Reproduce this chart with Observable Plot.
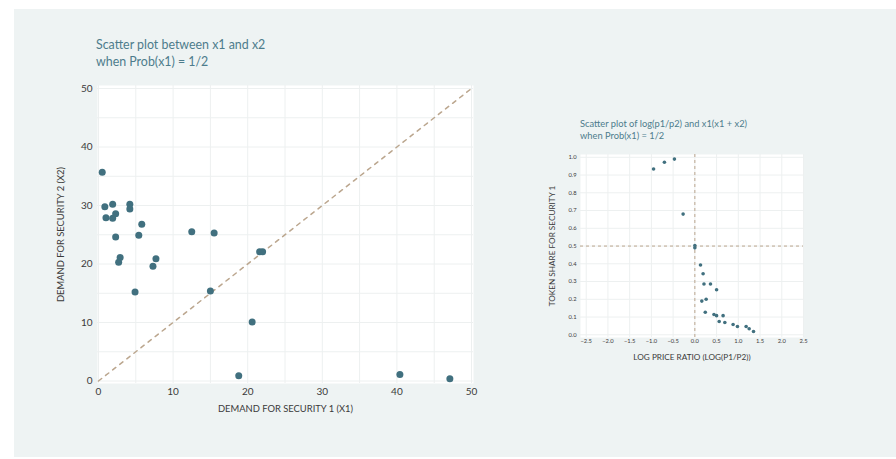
<!DOCTYPE html>
<html>
<head>
<meta charset="utf-8">
<script src="https://cdn.jsdelivr.net/npm/d3@7"></script>
<script src="https://cdn.jsdelivr.net/npm/@observablehq/plot@0.6"></script>
<style>
  html, body { margin: 0; padding: 0; background: #ffffff; }
  #root { position: relative; width: 896px; height: 459px; overflow: hidden; font-family: Lato, "Open Sans", sans-serif; }
  #panel { position: absolute; left: 14px; top: 9px; width: 882px; height: 448px; background: #eef3f3; }
  .title { position: absolute; color: #4d7c8c; white-space: nowrap; }
  #t1 { left: 96px; top: 36px; font-size: 12.4px; line-height: 17px; }
  #t2 { left: 580px; top: 118px; font-size: 9.3px; line-height: 12px; }
  .chart { position: absolute; }
  #c1 { left: 40px; top: 78px; }
  #c2 { left: 540px; top: 140px; }
</style>
</head>
<body>
<div id="root">
  <div id="panel"></div>
  <div class="title" id="t1">Scatter plot between x1 and x2<br>when Prob(x1) = 1/2</div>
  <div class="title" id="t2">Scatter plot of log(p1/p2) and x1(x1 + x2)<br>when Prob(x1) = 1/2</div>
  <div class="chart" id="c1"></div>
  <div class="chart" id="c2"></div>
</div>
<script>
// Left chart data: demand for security 1 (x1) and security 2 (x2)
const demandX1 = [0.5, 0.85, 1.0, 1.9, 1.9, 2.3, 2.3, 2.7, 2.9, 4.2, 4.2, 4.9, 5.4, 5.8, 7.3, 7.7, 12.5, 15.5, 15.0, 18.8, 20.6, 21.6, 22.0, 40.4, 47.1];
const demandX2 = [35.7, 29.8, 27.9, 30.2, 27.8, 28.6, 24.6, 20.3, 21.1, 30.2, 29.4, 15.2, 24.9, 26.8, 19.6, 20.9, 25.5, 25.3, 15.4, 0.9, 10.1, 22.1, 22.1, 1.1, 0.4];
const leftTicks = [0, 10, 20, 30, 40, 50];
const leftGrid = [0, 5, 10, 15, 20, 25, 30, 35, 40, 45, 50];
const diagonal = [0, 50];

// Right chart data: log price ratio and token share for security 1
const logPriceRatio = [-0.95, -0.70, -0.47, -0.27, 0.0, 0.0, 0.13, 0.19, 0.21, 0.36, 0.50, 0.16, 0.26, 0.24, 0.44, 0.50, 0.65, 0.56, 0.69, 0.88, 0.98, 1.18, 1.25, 1.35];
const tokenShare = [0.934, 0.972, 0.99, 0.68, 0.503, 0.49, 0.393, 0.344, 0.286, 0.286, 0.254, 0.19, 0.20, 0.127, 0.114, 0.108, 0.108, 0.075, 0.069, 0.058, 0.047, 0.047, 0.034, 0.019];
const rightXTicks = [-2.5, -2.0, -1.5, -1.0, -0.5, 0.0, 0.5, 1.0, 1.5, 2.0, 2.5];
const rightYTicks = [0.0, 0.1, 0.2, 0.3, 0.4, 0.5, 0.6, 0.7, 0.8, 0.9, 1.0];

const dotColor = "#41707f";
const dashColor = "#bba68e";
const gridColor = "#edf0f0";
const tickColor = "#3a3a3a";

const leftData = demandX1.map((x, i) => ({x1: x, x2: demandX2[i]}));
const diagData = diagonal.map(v => ({x: v, y: v}));

const left = Plot.plot({
  width: 450, height: 350,
  marginLeft: 57, marginRight: 17, marginTop: 7, marginBottom: 45,
  insetLeft: 1, insetRight: 2, insetTop: 3, insetBottom: 2.5,
  style: {fontFamily: "Lato, 'Open Sans', sans-serif", fontSize: "10px", color: tickColor, background: "transparent", overflow: "visible"},
  x: {domain: [0, 50]},
  y: {domain: [0, 50]},
  marks: [
    Plot.frame({fill: "#ffffff", stroke: null}),
    Plot.gridX(leftGrid, {stroke: gridColor, strokeOpacity: 1}),
    Plot.gridY(leftGrid, {stroke: gridColor, strokeOpacity: 1}),
    Plot.line(diagData, {x: "x", y: "y", stroke: dashColor, strokeWidth: 1.5, strokeDasharray: "4,5"}),
    Plot.dot(leftData, {x: "x1", y: "x2", r: 3.5, fill: dotColor, stroke: null}),
    Plot.axisX(leftTicks, {tickSize: 0, tickPadding: 4, fontSize: 10, label: "DEMAND FOR SECURITY 1 (X1)", labelAnchor: "center", labelOffset: 28, labelArrow: "none"}),
    Plot.axisY(leftTicks, {tickSize: 0, tickPadding: 5, fontSize: 10, label: "DEMAND FOR SECURITY 2 (X2)", labelAnchor: "center", labelOffset: 40, labelArrow: "none"})
  ]
});
document.getElementById("c1").appendChild(left);

const rightData = logPriceRatio.map((x, i) => ({x: x, y: tokenShare[i]}));

const right = Plot.plot({
  width: 290, height: 230,
  marginLeft: 40, marginRight: 27, marginTop: 14, marginBottom: 33,
  insetLeft: 5.7, insetRight: 0, insetTop: 2.8, insetBottom: 2.7,
  style: {fontFamily: "Lato, 'Open Sans', sans-serif", fontSize: "6px", color: tickColor, background: "transparent", overflow: "visible"},
  x: {domain: [-2.5, 2.5]},
  y: {domain: [0, 1]},
  marks: [
    Plot.frame({fill: "#ffffff", stroke: null}),
    Plot.gridX(rightXTicks, {stroke: gridColor, strokeOpacity: 1}),
    Plot.gridY(rightYTicks, {stroke: gridColor, strokeOpacity: 1}),
    Plot.ruleX([0], {stroke: dashColor, strokeWidth: 1, strokeDasharray: "3,3"}),
    Plot.ruleY([0.5], {stroke: dashColor, strokeWidth: 1, strokeDasharray: "3,3"}),
    Plot.dot(rightData, {x: "x", y: "y", r: 1.8, fill: dotColor, stroke: null}),
    Plot.axisX(rightXTicks, {tickSize: 0, tickPadding: 1, fontSize: 5.8, tickFormat: d3.format(".1f"), label: "LOG PRICE RATIO (LOG(P1/P2))", labelAnchor: "center", labelOffset: 22, labelArrow: "none"}),
    Plot.axisY(rightYTicks, {tickSize: 0, tickPadding: 4, fontSize: 5.8, tickFormat: d3.format(".1f"), label: "TOKEN SHARE FOR SECURITY 1", labelAnchor: "center", labelOffset: 31.5, labelArrow: "none"})
  ]
});
document.getElementById("c2").appendChild(right);

// axis label font sizes
left.querySelectorAll("g[aria-label='x-axis label'] text, g[aria-label='y-axis label'] text").forEach(t => t.setAttribute("font-size", "9.4"));
right.querySelectorAll("g[aria-label='x-axis label'] text, g[aria-label='y-axis label'] text").forEach(t => t.setAttribute("font-size", "8.2"));
</script>
</body>
</html>
